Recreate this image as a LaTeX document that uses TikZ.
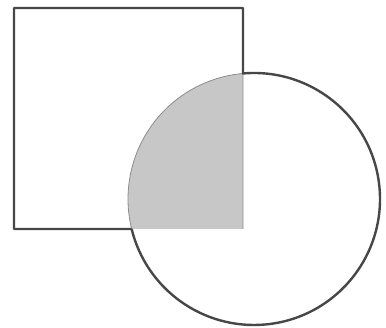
\documentclass[tikz,border=0pt]{standalone}
\usetikzlibrary{calc}

\begin{document}
\begin{tikzpicture}[x=1pt, y=1pt,
  outline/.style={draw=black!72, line width=2.4pt, line join=round},
  overlap/.style={fill=black!22},
  seam/.style={draw=black!45, line width=0.8pt}]
  \useasboundingbox (0,0) rectangle (386,328);

  % square corners
  \coordinate (sqSW) at (14,99);
  \coordinate (sqNW) at (14,320);
  \coordinate (sqNE) at (243,320);
  \coordinate (sqSE) at (243,99);

  % circle and where it meets the square
  \coordinate (ctr) at (254,129);
  \coordinate (hitR) at ($(ctr)+(95:126)$);
  \coordinate (hitB) at ($(ctr)+(193.77:126)$);

  % shaded overlap
  \path[overlap] (hitB) arc[start angle=193.77, end angle=95, radius=126]
    -- (sqSE) -- cycle;
  \draw[seam] (hitB) arc[start angle=193.77, end angle=95, radius=126]
    -- (sqSE);

  % outer outline
  \draw[outline] (hitB) -- (sqSW) -- (sqNW) -- (sqNE) -- (hitR)
    arc[start angle=95, end angle=-166.23, radius=126];
\end{tikzpicture}
\end{document}
